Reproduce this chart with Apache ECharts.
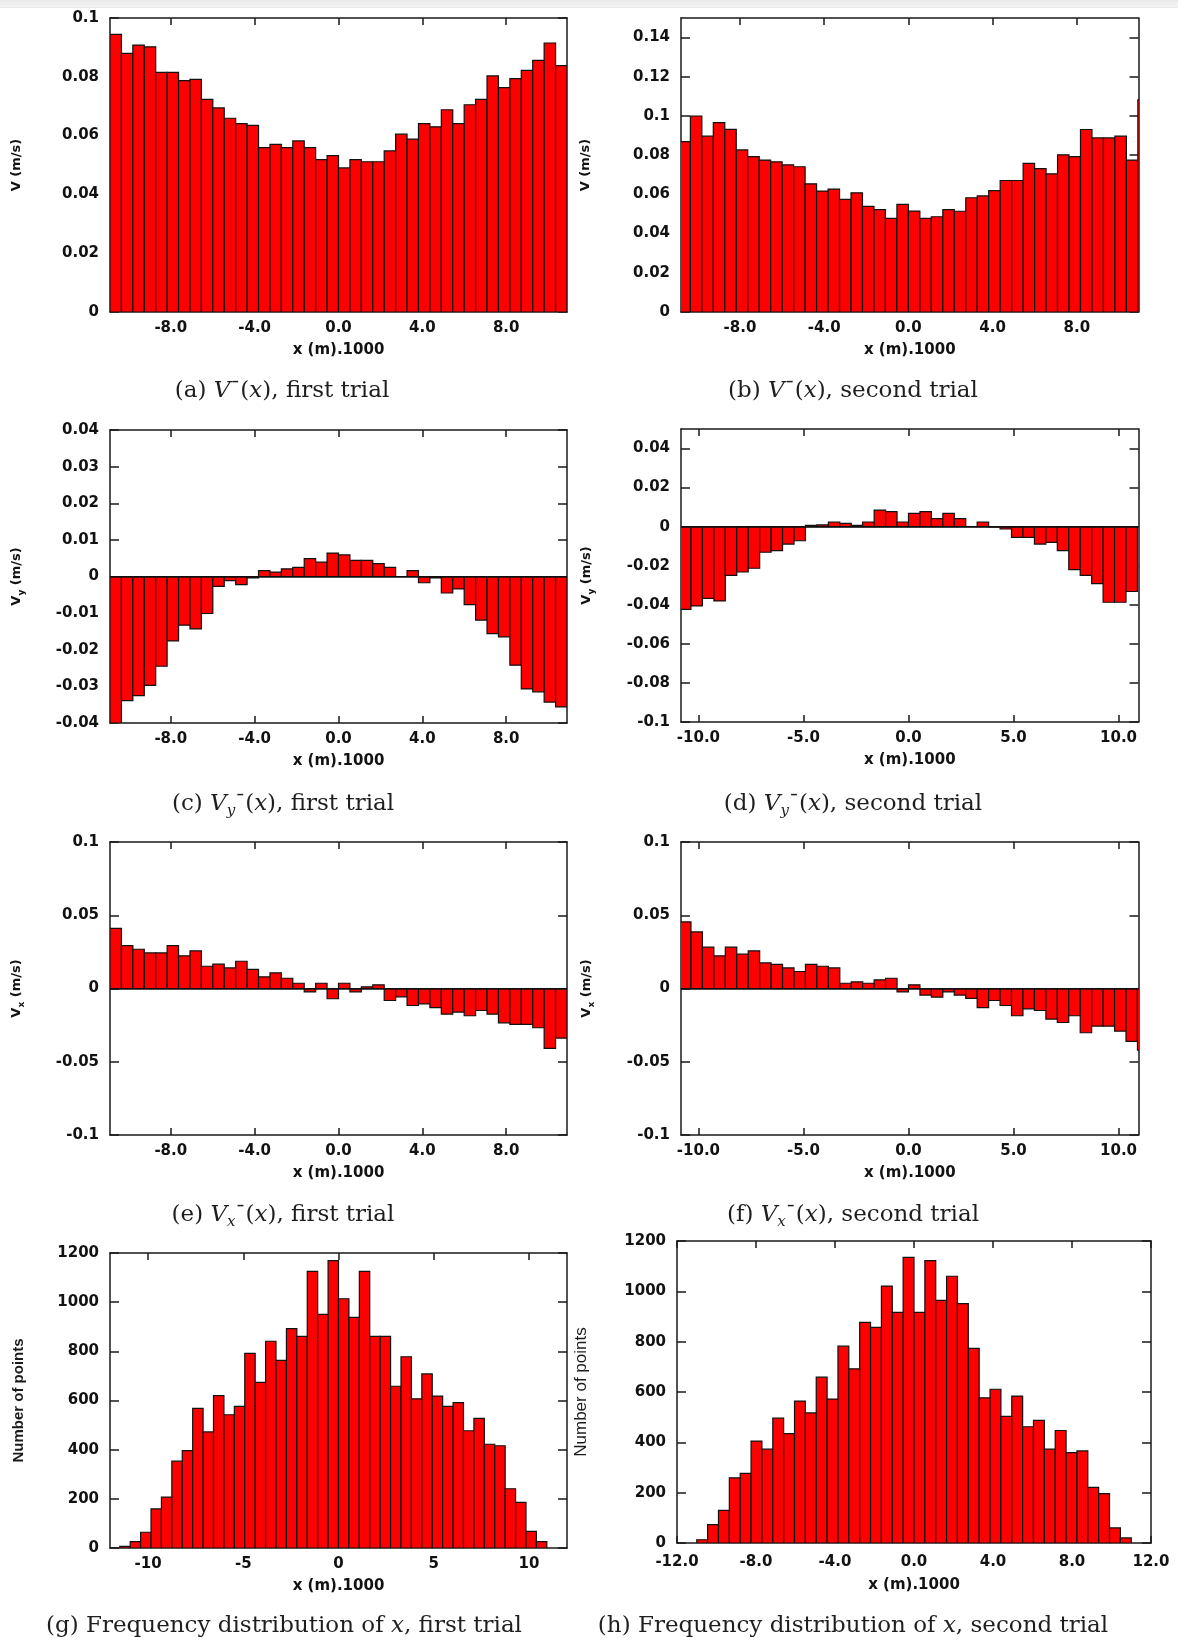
<!DOCTYPE html>
<html>
<head>
<meta charset="utf-8">
<script src="https://cdn.jsdelivr.net/npm/echarts@6/dist/echarts.min.js"></script>
<style>
html,body{margin:0;padding:0;background:#fff;}
#chart{position:absolute;left:0;top:0;width:1178px;height:1643px;}
#band{position:absolute;left:0;top:0;width:1178px;height:8px;background:linear-gradient(#e9e9e9,#f4f4f4 80%,#e2e2e2);pointer-events:none;}
</style>
</head>
<body>
<div id="chart"></div>
<div id="band"></div>
<script>
// ---------------- data ----------------
// (a) mean V(x), first trial
const vA = [0.0944,0.0880,0.0908,0.0902,0.0815,0.0815,0.0787,0.0791,0.0723,0.0694,0.0659,0.0641,0.0635,0.0559,0.0570,0.0559,0.0582,0.0559,0.0518,0.0532,
            0.0490,0.0518,0.0511,0.0511,0.0548,0.0605,0.0588,0.0641,0.0630,0.0688,0.0641,0.0705,0.0723,0.0803,0.0763,0.0794,0.0822,0.0856,0.0915,0.0838];
// (b) mean V(x), second trial (last bin lies just past the axis end)
const vB = [0.0869,0.1000,0.0897,0.0966,0.0932,0.0827,0.0793,0.0775,0.0766,0.0751,0.0741,0.0654,0.0617,0.0627,0.0575,0.0608,0.0539,0.0522,0.0478,0.0549,
            0.0515,0.0478,0.0486,0.0522,0.0514,0.0583,0.0592,0.0619,0.0671,0.0671,0.0758,0.0731,0.0705,0.0802,0.0793,0.0931,0.0888,0.0888,0.0897,0.0775,0.1083];
// (c) mean Vy(x), first trial
const vC = [-0.0400,-0.0339,-0.0325,-0.0297,-0.0245,-0.0176,-0.0133,-0.0143,-0.0101,-0.0027,-0.0011,-0.0022,-0.0004,0.0016,0.0012,0.0021,0.0025,0.0049,0.0039,0.0064,
            0.0059,0.0044,0.0044,0.0035,0.0025,0.0000,0.0016,-0.0017,-0.0004,-0.0045,-0.0034,-0.0077,-0.0119,-0.0156,-0.0165,-0.0242,-0.0307,-0.0315,-0.0343,-0.0356];
// (d) mean Vy(x), second trial
const vD = [-0.0423,-0.0406,-0.0367,-0.0380,-0.0249,-0.0232,-0.0213,-0.0131,-0.0123,-0.0089,-0.0072,0.0007,0.0009,0.0024,0.0017,0.0007,0.0024,0.0085,0.0077,0.0024,
            0.0068,0.0077,0.0041,0.0068,0.0041,0.0000,0.0024,-0.0002,-0.0012,-0.0055,-0.0055,-0.0089,-0.0080,-0.0123,-0.0220,-0.0249,-0.0292,-0.0387,-0.0387,-0.0332];
// (e) mean Vx(x), first trial
const vE = [0.0411,0.0293,0.0268,0.0243,0.0243,0.0293,0.0223,0.0257,0.0152,0.0166,0.0141,0.0186,0.0130,0.0080,0.0107,0.0070,0.0036,-0.0023,0.0036,-0.0070,
            0.0036,-0.0023,0.0011,0.0025,-0.0082,-0.0057,-0.0116,-0.0105,-0.0130,-0.0175,-0.0161,-0.0186,-0.0150,-0.0175,-0.0234,-0.0245,-0.0245,-0.0268,-0.0409,-0.0339];
// (f) mean Vx(x), second trial (last bin lies just past the axis end)
const vF = [0.0455,0.0386,0.0282,0.0223,0.0282,0.0234,0.0257,0.0175,0.0164,0.0141,0.0116,0.0164,0.0152,0.0141,0.0036,0.0045,0.0036,0.0059,0.0070,-0.0023,
            0.0025,-0.0045,-0.0059,-0.0023,-0.0045,-0.0068,-0.0130,-0.0082,-0.0116,-0.0186,-0.0139,-0.0150,-0.0209,-0.0232,-0.0186,-0.0302,-0.0257,-0.0257,-0.0291,-0.0361,-0.0420];
// (g) frequency distribution of x, first trial
const vG = [7,26,64,159,207,353,396,568,472,620,542,576,792,674,841,763,892,861,1125,950,
            1169,1014,938,1125,861,861,658,778,607,708,618,576,591,477,527,422,416,241,186,68,26];
// (h) frequency distribution of x, second trial
const vH = [13,73,130,259,277,405,373,496,435,564,517,659,572,782,692,877,857,1021,916,1135,
            916,1122,964,1060,951,773,577,611,503,584,462,487,373,447,359,366,221,196,60,20];

// bin definitions (first bin start, bin width), x axis units
const binsStd = {start: -10.9, width: 0.545};
const binsG = {start: -11.487, width: 0.547};
const binsH = {start: -11.0, width: 0.55};

// tick values
const xTicks4 = [-8, -4, 0, 4, 8];
const xTicks5 = [-10, -5, 0, 5, 10];
const xTicksH = [-12, -8, -4, 0, 4, 8, 12];
const yTicksA = [0, 0.02, 0.04, 0.06, 0.08, 0.1];
const yTicksB = [0, 0.02, 0.04, 0.06, 0.08, 0.1, 0.12, 0.14];
const yTicksC = [-0.04, -0.03, -0.02, -0.01, 0, 0.01, 0.02, 0.03, 0.04];
const yTicksD = [-0.1, -0.08, -0.06, -0.04, -0.02, 0, 0.02, 0.04];
const yTicksE = [-0.1, -0.05, 0, 0.05, 0.1];
const yTicksG = [0, 200, 400, 600, 800, 1000, 1200];

const captions = [
  '{n|(a) }{i|V}{m|¯}{n|(}{i|x}{n|), first trial}',
  '{n|(b) }{i|V}{m|¯}{n|(}{i|x}{n|), second trial}',
  '{n|(c) }{i|V}{s|y}{m|¯}{n|(}{i|x}{n|), first trial}',
  '{n|(d) }{i|V}{s|y}{m|¯}{n|(}{i|x}{n|), second trial}',
  '{n|(e) }{i|V}{s|x}{m|¯}{n|(}{i|x}{n|), first trial}',
  '{n|(f) }{i|V}{s|x}{m|¯}{n|(}{i|x}{n|), second trial}',
  '{n|(g) Frequency distribution of }{i|x}{n|, first trial}',
  '{n|(h) Frequency distribution of }{i|x}{n|, second trial}'
];

// ---------------- helpers ----------------
const INK = '#121212';
const fmt1 = v => v.toFixed(1);
const fmtInt = v => String(Math.round(v));
const fmtY = v => String(+v.toFixed(4));

function bins(def, values) {
  return values.map((v, i) => [def.start + i * def.width, def.start + (i + 1) * def.width, v]);
}

function renderBar(params, api) {
  const a = api.coord([api.value(0), 0]);
  const b = api.coord([api.value(1), api.value(2)]);
  return {
    type: 'rect',
    shape: {x: a[0], y: Math.min(a[1], b[1]), width: b[0] - a[0], height: Math.abs(b[1] - a[1])},
    style: {fill: '#ff0000', stroke: '#111', lineWidth: 1.2}
  };
}

const nameRichBold = {
  v: {fontFamily: 'DejaVu Sans', fontWeight: 'bold', fontSize: 13, color: INK, lineHeight: 18, verticalAlign: 'middle'},
  s: {fontFamily: 'DejaVu Sans', fontWeight: 'bold', fontSize: 9, color: INK, lineHeight: 9, verticalAlign: 'bottom'}
};

const panels = [
  {g: [110, 18, 457, 294], xr: [-10.9, 10.9], xt: xTicks4, xf: fmt1, yr: [0, 0.1], yt: yTicksA, bins: binsStd, vals: vA,
   yName: '{v|V (m/s)}', yGap: 84, zero: false},
  {g: [681, 18, 457.5, 294], xr: [-10.8, 10.93], xt: xTicks4, xf: fmt1, yr: [0, 0.15], yt: yTicksB, bins: binsStd, vals: vB,
   yName: '{v|V (m/s)}', yGap: 86, zero: false},
  {g: [110, 430, 457, 293], xr: [-10.9, 10.9], xt: xTicks4, xf: fmt1, yr: [-0.04, 0.04], yt: yTicksC, bins: binsStd, vals: vC,
   yName: '{v|V}{s|y}{v| (m/s)}', yGap: 84, zero: true},
  {g: [681, 429, 457.5, 293], xr: [-10.83, 10.95], xt: xTicks5, xf: fmt1, yr: [-0.1, 0.05], yt: yTicksD, bins: binsStd, vals: vD,
   yName: '{v|V}{s|y}{v| (m/s)}', yGap: 85, zero: true},
  {g: [110, 842, 457, 293], xr: [-10.9, 10.9], xt: xTicks4, xf: fmt1, yr: [-0.1, 0.1], yt: yTicksE, bins: binsStd, vals: vE,
   yName: '{v|V}{s|x}{v| (m/s)}', yGap: 84, zero: true},
  {g: [681, 842, 457.5, 293], xr: [-10.83, 10.95], xt: xTicks5, xf: fmt1, yr: [-0.1, 0.1], yt: yTicksE, bins: binsStd, vals: vF,
   yName: '{v|V}{s|x}{v| (m/s)}', yGap: 85, zero: true},
  {g: [110, 1253, 457, 295], xr: [-12, 12], xt: xTicks5, xf: fmtInt, yr: [0, 1200], yt: yTicksG, bins: binsG, vals: vG,
   yName: 'Number of points', yGap: 84, zero: false, plainName: {fontFamily: 'Liberation Sans', fontWeight: 'bold', fontSize: 15, color: '#1a1a1a'}},
  {g: [677, 1241, 474, 302], xr: [-12, 12], xt: xTicksH, xf: fmt1, yr: [0, 1200], yt: yTicksG, bins: binsH, vals: vH,
   yName: 'Number of points', yGap: 87, zero: false, plainName: {fontFamily: 'Liberation Sans', fontSize: 17, color: '#1a1a1a'},
   xMargin: 12, xGap: 35}
];
const captionPos = [[282, 391], [853, 391], [283, 804], [853, 804], [283, 1215], [853, 1215], [284, 1626], [853, 1626]];

// ---------------- build option ----------------
const grid = [], xAxis = [], yAxis = [], series = [];
const lineStyle = {color: '#1a1a1a', width: 1.5};
const labelFont = {fontFamily: 'DejaVu Sans', fontWeight: 'bold', fontSize: 15, color: INK};

panels.forEach((p, i) => {
  grid.push({left: p.g[0], top: p.g[1], width: p.g[2], height: p.g[3], show: false, containLabel: false, outerBoundsMode: 'none'});
  xAxis.push({
    gridIndex: i, type: 'value', position: 'bottom', min: p.xr[0], max: p.xr[1],
    axisLine: {show: true, onZero: false, lineStyle},
    axisTick: {show: true, inside: true, length: 7, customValues: p.xt, lineStyle},
    axisLabel: Object.assign({show: true, customValues: p.xt, formatter: p.xf, margin: p.xMargin || 9}, labelFont),
    splitLine: {show: false},
    name: 'x (m).1000', nameLocation: 'middle', nameGap: p.xGap || 31,
    nameTextStyle: labelFont
  });
  xAxis.push({
    gridIndex: i, type: 'value', position: 'top', min: p.xr[0], max: p.xr[1],
    axisLine: {show: true, onZero: false, lineStyle},
    axisTick: {show: true, inside: true, length: 7, customValues: p.xt, lineStyle},
    axisLabel: {show: false}, splitLine: {show: false}
  });
  const nameStyle = p.plainName
    ? p.plainName
    : {rich: nameRichBold, fontFamily: 'DejaVu Sans', fontWeight: 'bold', fontSize: 13, color: INK};
  yAxis.push({
    gridIndex: i, type: 'value', position: 'left', min: p.yr[0], max: p.yr[1],
    axisLine: {show: true, onZero: false, lineStyle},
    axisTick: {show: true, inside: true, length: 9, customValues: p.yt, lineStyle},
    axisLabel: Object.assign({show: true, customValues: p.yt, formatter: fmtY, margin: 11}, labelFont),
    splitLine: {show: false},
    name: p.yName, nameLocation: 'middle', nameGap: p.yGap, nameTextStyle: nameStyle
  });
  yAxis.push({
    gridIndex: i, type: 'value', position: 'right', min: p.yr[0], max: p.yr[1],
    axisLine: {show: true, onZero: false, lineStyle},
    axisTick: {show: true, inside: true, length: 9, customValues: p.yt, lineStyle},
    axisLabel: {show: false}, splitLine: {show: false}
  });
  const s = {
    type: 'custom', name: 'panel' + i, xAxisIndex: 2 * i, yAxisIndex: 2 * i,
    clip: true, renderItem: renderBar,
    encode: {x: [0, 1], y: 2},
    data: bins(p.bins, p.vals),
    silent: true
  };
  if (p.zero) {
    s.markLine = {silent: true, symbol: ['none', 'none'], label: {show: false},
      lineStyle: {color: '#111', width: 1.5, type: 'solid'}, data: [{yAxis: 0}], animation: false};
  }
  series.push(s);
});

const capRich = {
  n: {fontFamily: 'DejaVu Serif', fontSize: 23, fill: '#1e1e1e', color: '#1e1e1e', lineHeight: 30, verticalAlign: 'middle'},
  i: {fontFamily: 'DejaVu Serif', fontStyle: 'italic', fontSize: 23, fill: '#1e1e1e', color: '#1e1e1e', lineHeight: 30, verticalAlign: 'middle'},
  s: {fontFamily: 'DejaVu Serif', fontStyle: 'italic', fontSize: 15, fill: '#1e1e1e', color: '#1e1e1e', lineHeight: 15, verticalAlign: 'bottom'},
  m: {fontFamily: 'DejaVu Serif', fontSize: 20, fill: '#1e1e1e', color: '#1e1e1e', lineHeight: 30, verticalAlign: 'middle'}
};
const graphic = captions.map((c, i) => ({
  type: 'text', x: captionPos[i][0], y: captionPos[i][1], silent: true,
  style: {text: c, rich: capRich, fontFamily: 'DejaVu Serif', fontSize: 23, fill: '#1e1e1e',
          align: 'center', textAlign: 'center', verticalAlign: 'middle', textVerticalAlign: 'middle'}
}));

const chart = echarts.init(document.getElementById('chart'), null, {renderer: 'canvas', width: 1178, height: 1643});
chart.setOption({
  animation: false,
  backgroundColor: '#ffffff',
  textStyle: {fontFamily: 'DejaVu Sans'},
  grid, xAxis, yAxis, series, graphic
});
</script>
</body>
</html>
